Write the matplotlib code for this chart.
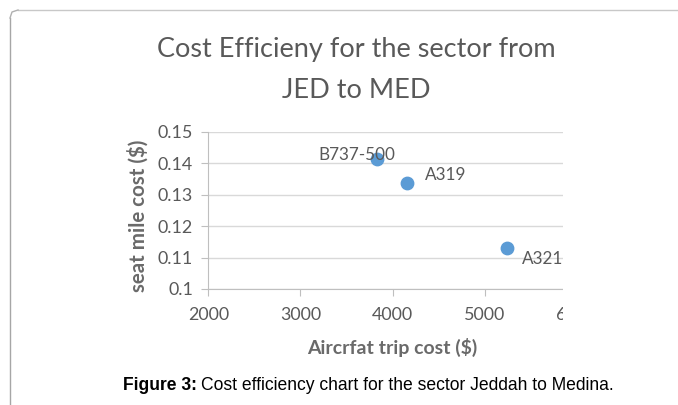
import matplotlib
matplotlib.use("Agg")
import matplotlib.pyplot as plt
from matplotlib.lines import Line2D
from matplotlib.patches import Rectangle
from matplotlib.textpath import TextPath
from matplotlib.font_manager import FontProperties

aircraft = ["B737-500", "A319", "A321"]
trip_cost = [3826, 4152, 5236]
seat_mile_cost = [0.1412, 0.1338, 0.1130]
x_ticks = [2000, 3000, 4000, 5000, 6000]
y_ticks = [0.1, 0.11, 0.12, 0.13, 0.14, 0.15]
y_tick_labels = ["0.1", "0.11", "0.12", "0.13", "0.14", "0.15"]
title_lines = ["Cost Efficieny for the sector from", "JED to MED"]
x_label = "Aircrfat trip cost ($)"
y_label = "seat mile cost ($)"
caption_bold = "Figure 3:"
caption_rest = "Cost efficiency chart for the sector Jeddah to Medina."

W, H = 678, 405
fig = plt.figure(figsize=(W / 100, H / 100), dpi=100)
fam = ["Lato", "DejaVu Sans"]
capfam = ["Liberation Sans", "DejaVu Sans"]
gray = "#595959"


def fit(text, target_px, family=fam, weight="normal"):
    fp = FontProperties(family=family, weight=weight, size=10)
    w = TextPath((0, 0), text, prop=fp).get_extents().width  # in points at size 10
    return 10 * target_px / (w * 100 / 72)


tick_fs = fit("2000", 40)
lab_fs = fit("B737-500", 75)

x0, x1 = 208.3, 577.0
yb, yt = 289.0, 131.7
ax = fig.add_axes([x0 / W, 1 - yb / H, (x1 - x0) / W, (yb - yt) / H])
ax.set_xlim(2000, 6000)
ax.set_ylim(0.1, 0.15)
ax.set_xticks(x_ticks)
ax.set_yticks(y_ticks)
ax.set_yticklabels(y_tick_labels)
ax.grid(axis="y", color="#d9d9d9", linewidth=1)
ax.set_axisbelow(True)
for s in ["top", "right"]:
    ax.spines[s].set_visible(False)
for s in ["left", "bottom"]:
    ax.spines[s].set_color("#bfbfbf")
ax.tick_params(axis="both", colors="#bfbfbf", labelcolor=gray, labelsize=tick_fs,
               length=5, direction="out")
ax.tick_params(axis="x", pad=8)
ax.tick_params(axis="y", pad=6)
for lab in ax.get_xticklabels() + ax.get_yticklabels():
    lab.set_family(fam)

ax.scatter(trip_cost, seat_mile_cost, s=80, color="#5b9bd5", zorder=3, clip_on=False)

offsets = [(-14, 3, "center", "center"), (13.5, 5.8, "left", "center"),
           (11, -7.7, "left", "center")]
for name, xv, yv, (dx, dy, ha, va) in zip(aircraft, trip_cost, seat_mile_cost, offsets):
    ax.annotate(name, (xv, yv), xytext=(dx, dy), textcoords="offset points",
                ha=ha, va=va, fontsize=lab_fs, color=gray, family=fam, zorder=4)

# crop the chart at the right like the reference
fig.patches.append(Rectangle((563 / W, 1 - 335 / H), (W - 563) / W, (335 - 100) / H,
                             transform=fig.transFigure, facecolor="white",
                             edgecolor="none", zorder=10))

lblcol = "#6a6a6a"
fig.text(392 / W, 1 - 347 / H, x_label, ha="center", va="center",
         fontsize=fit(x_label, 169, weight="bold"), color=lblcol, family=fam,
         fontweight="bold")
fig.text(138 / W, 1 - 216 / H, y_label, ha="center", va="center", rotation=90,
         fontsize=fit(y_label, 152, weight="bold"), color=lblcol, family=fam,
         fontweight="bold")

title_fs = fit(title_lines[0], 395)
fig.text(356 / W, 1 - 50 / H, title_lines[0], ha="center", va="center",
         fontsize=title_fs, color=gray, family=fam)
fig.text(356 / W, 1 - 91 / H, title_lines[1], ha="center", va="center",
         fontsize=title_fs, color=gray, family=fam)

# frame lines
fig.lines.append(Line2D([10 / W, 10 / W], [0, 1 - 18 / H], transform=fig.transFigure,
                        color="#a6a6a6", linewidth=1))
fig.lines.append(Line2D([18 / W, 1], [1 - 10 / H, 1 - 10 / H], transform=fig.transFigure,
                        color="#c8c8c8", linewidth=1))
fig.lines.append(Line2D([10 / W, 12 / W, 18 / W], [1 - 18 / H, 1 - 12 / H, 1 - 10 / H],
                        transform=fig.transFigure, color="#b0b0b0", linewidth=1))

# caption
cap_fs = fit(caption_bold + " " + caption_rest, 485, family=capfam)
cap_y = 1 - 385 / H
t1 = fig.text(123 / W, cap_y, caption_bold, ha="left", va="center", fontsize=cap_fs,
              fontweight="bold", family=capfam, color="black")
renderer = fig.canvas.get_renderer()
bb = t1.get_window_extent(renderer=renderer)
fig.text((bb.x1 + 4) / W, cap_y, caption_rest, ha="left", va="center", fontsize=cap_fs,
         family=capfam, color="black")

fig.savefig("out.png", dpi=100)
